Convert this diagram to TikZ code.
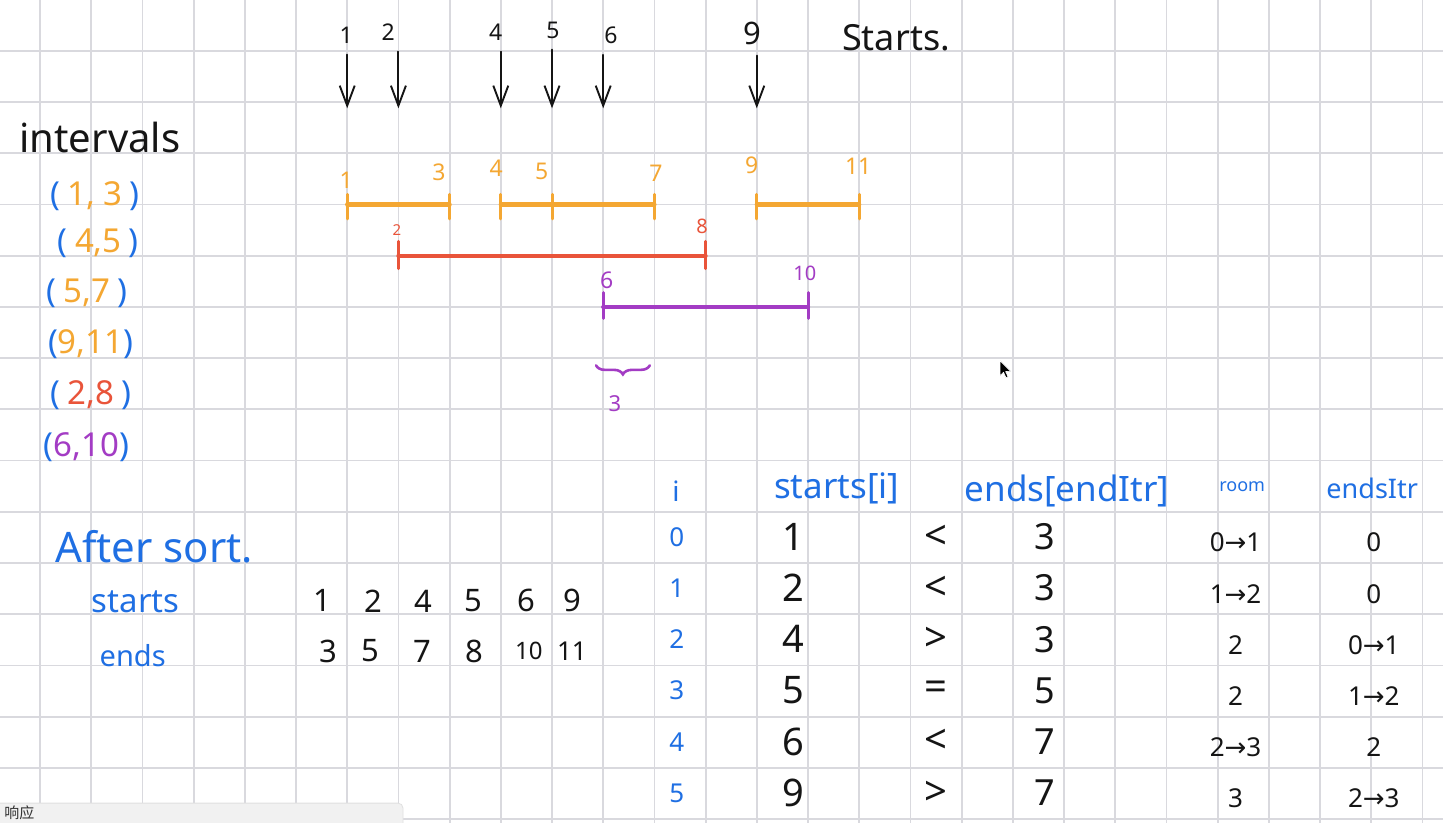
\documentclass[tikz,border=0pt]{standalone}
\usepackage{fontspec}
\setmainfont{Noto Sans}
\newfontfamily\arrowfont{DejaVu Sans}
\newfontfamily\cjkfont{Noto Sans CJK SC}
\usetikzlibrary{arrows.meta, decorations.pathreplacing, positioning}
\definecolor{nbOrange}{HTML}{F4A732}
\definecolor{nbRed}{HTML}{E9543A}
\definecolor{nbPurple}{HTML}{A33CC4}
\definecolor{nbBlue}{HTML}{1F6FE3}
\definecolor{nbInk}{HTML}{151515}
\definecolor{nbGrid}{HTML}{D9D9DE}
\definecolor{nbPopup}{HTML}{F1F1F1}
\definecolor{nbPopupEdge}{HTML}{E0E0E0}
\definecolor{nbPopupText}{HTML}{333333}
\newcommand{\goesto}{{\arrowfont →}}
\newcommand{\ivl}[2]{{\color{nbBlue}(}\hspace{0.22em}{\color{#1}#2}\hspace{0.22em}{\color{nbBlue})}}
\tikzset{
  % one cell of the notebook grid is one unit
  every picture/.append style = {line cap=round},
  fs/.style         = {font=\fontsize{#1}{#1}\selectfont},
  ink/.style        = {text=nbInk, inner sep=0pt},
  bluetxt/.style    = {text=nbBlue, inner sep=0pt},
  gridline/.style   = {nbGrid, line width=1.8pt, line cap=butt},
  startarrow/.style = {-{Straight Barb[length=20pt, width=15pt, line width=1.9pt]},
                       nbInk, line width=1.9pt},
  bar/.style        = {#1, line width=4.2pt},
  tickmark/.style   = {#1, line width=3pt},
}

\begin{document}
\begin{tikzpicture}[x=51.2pt, y=-51.2pt]
  \useasboundingbox (-0.7813,-0.9961) rectangle (27.4805,15.0781);
  \fill[white] (-0.7813,-0.9961) rectangle (27.4805,15.0781);
  % notebook grid
  \foreach \c in {0,...,27} \draw[gridline] (\c,-1) -- (\c,15.1);
  \foreach \r in {0,...,15} \draw[gridline] (-0.8,\r) -- (27.4,\r);

  % start points, each with an arrow down to the line
  \foreach \v/\c/\dx/\dy/\sz in {1/6/-0.02/-0.31/23, 2/7/-0.2/-0.37/23,
      4/9/-0.1/-0.37/23, 5/10/0.02/-0.41/23, 6/11/0.15/-0.31/23, 9/14/-0.09/-0.35/31} {
    \node[ink, fs=\sz] (top\v) at (\c+\dx,\dy) {\v};
    \coordinate (tip\v) at (\c,1.12);
    \draw[startarrow, shorten <=11pt] (top\v.south -| tip\v) -- (tip\v);
  }
  \node[ink, fs=36] (startsword) at (16.72,-0.25) {Starts.};

  % intervals on the number line
  \draw[bar=nbOrange] (6,3) -- (8,3) (9,3) -- (12,3) (14,3) -- (16,3);
  \foreach \c in {6,8,9,10,12,14,16} \draw[tickmark=nbOrange] (\c,2.8) -- (\c,3.28);
  \draw[bar=nbRed] (7,4) -- (13,4);
  \foreach \c in {7,13} \draw[tickmark=nbRed] (\c,3.72) -- (\c,4.25);
  \draw[bar=nbPurple] (11,5) -- (15,5);
  \foreach \c in {11,15} \draw[tickmark=nbPurple] (\c,4.72) -- (\c,5.22);

  \foreach \t/\x/\y in {1/5.98/2.52, 3/7.79/2.36, 4/8.91/2.29, 5/9.8/2.36,
      7/12.03/2.39, 9/13.9/2.23, 11/15.98/2.26}
    \node[fs=23, text=nbOrange, inner sep=0pt] (o\t) at (\x,\y) {\t};
  \node[fs=15, text=nbRed, inner sep=0pt] (r2) at (6.97,3.5) {2};
  \node[fs=20, text=nbRed, inner sep=0pt] (r8) at (12.93,3.43) {8};
  \node[fs=23, text=nbPurple, inner sep=0pt] (p6) at (11.07,4.47) {6};
  \node[fs=20, text=nbPurple, inner sep=0pt] (p10) at (14.94,4.34) {10};

  % overlap of the purple interval
  \draw[nbPurple, line width=2.6pt, decorate,
        decoration={brace, mirror, amplitude=9pt}] (10.86,6.14) -- (11.91,6.14);
  \node[fs=22, text=nbPurple, inner sep=0pt] (gap) at (11.23,6.88) {3};

  % mouse pointer
  \begin{scope}[shift={(18.75,6.05)}, x=1pt, y=-1pt]
    \filldraw[fill=black, draw=white, line width=0.6pt, line join=round]
      (0,0) -- (0,15) -- (3.5,11.5) -- (6,17) -- (8,16) -- (5.6,10.8) -- (10.5,10.5) -- cycle;
  \end{scope}

  % list of intervals
  \node[ink, fs=40] (title) at (1.17,1.68) {intervals};
  \node[inner sep=0pt, fs=33] (iv1) at (1.07,2.83) {\ivl{nbOrange}{1, 3}};
  \node[inner sep=0pt, fs=33] (iv2) at (1.14,3.75) {\ivl{nbOrange}{4,5}};
  \node[inner sep=0pt, fs=33] (iv3) at (0.91,4.74) {\ivl{nbOrange}{5,7}};
  \node[inner sep=0pt, fs=33] (iv4) at (0.99,5.72) {{\color{nbBlue}(}{\color{nbOrange}9,11}{\color{nbBlue})}};
  \node[inner sep=0pt, fs=33] (iv5) at (0.99,6.72) {\ivl{nbRed}{2,8}};
  \node[inner sep=0pt, fs=33] (iv6) at (0.91,7.73) {{\color{nbBlue}(}{\color{nbPurple}6,10}{\color{nbBlue})}};

  % sorted arrays
  \node[bluetxt, fs=42] (aftersort) at (2.23,9.69) {After sort.};
  \node[bluetxt, fs=33] (startslbl) at (1.87,10.76) {starts};
  \node[bluetxt, fs=29] (endslbl) at (1.81,11.8) {ends};
  \foreach \v/\x/\sz in {1/5.51/31, 2/6.52/31, 4/7.48/31, 5/8.46/31, 6/9.49/31, 9/10.39/31}
    \node[ink, fs=\sz] (s\v) at (\x,10.74) {\v};
  \foreach \v/\x/\sz in {3/5.63/31, 5/6.45/31, 7/7.46/31, 8/8.48/31, 10/9.55/24, 11/10.39/26}
    \node[ink, fs=\sz] (e\v) at (\x,11.72) {\v};

  % sweep table
  \node[bluetxt, fs=28] (hi) at (12.42,8.6) {i};
  \node[bluetxt, fs=35] (hstarts) at (15.56,8.55) {starts[i]};
  \node[bluetxt, fs=35] (hends) at (20.06,8.6) {ends[endItr]};
  \node[bluetxt, fs=18] (hroom) at (23.48,8.5) {room};
  \node[bluetxt, fs=27] (hitr) at (26.02,8.55) {endsItr};
  \foreach \r/\sv/\cv/\ev/\rv/\iv in {0/1/</3/0\goesto1/0, 1/2/</3/1\goesto2/0,
      2/4/>/3/2/0\goesto1, 3/5/=/5/2/1\goesto2, 4/6/</7/2\goesto3/2, 5/9/>/7/3/2\goesto3} {
    \node[bluetxt, fs=26] (i\r) at (12.44,9.49+\r) {\r};
    \node[ink, fs=38] (st\r) at (14.72,9.49+\r) {\sv};
    \node[ink, fs=40] (cmp\r) at (17.5,9.49+\r) {\cv};
    \node[ink, fs=36] (en\r) at (19.62,9.49+\r) {\ev};
    \node[ink, fs=26] (room\r) at (23.35,9.6+\r) {\rv};
    \node[ink, fs=26] (itr\r) at (26.05,9.6+\r) {\iv};
  }

  % popup strip at the bottom edge
  \filldraw[fill=nbPopup, draw=nbPopupEdge, line width=0.8pt, rounded corners=5pt]
    (-0.9,14.69) rectangle (7.09,15.4);
  \node[text=nbPopupText, inner sep=0pt, fs=15, anchor=west] (popup) at (-0.7,14.88) {\cjkfont 响应};
\end{tikzpicture}
\end{document}
